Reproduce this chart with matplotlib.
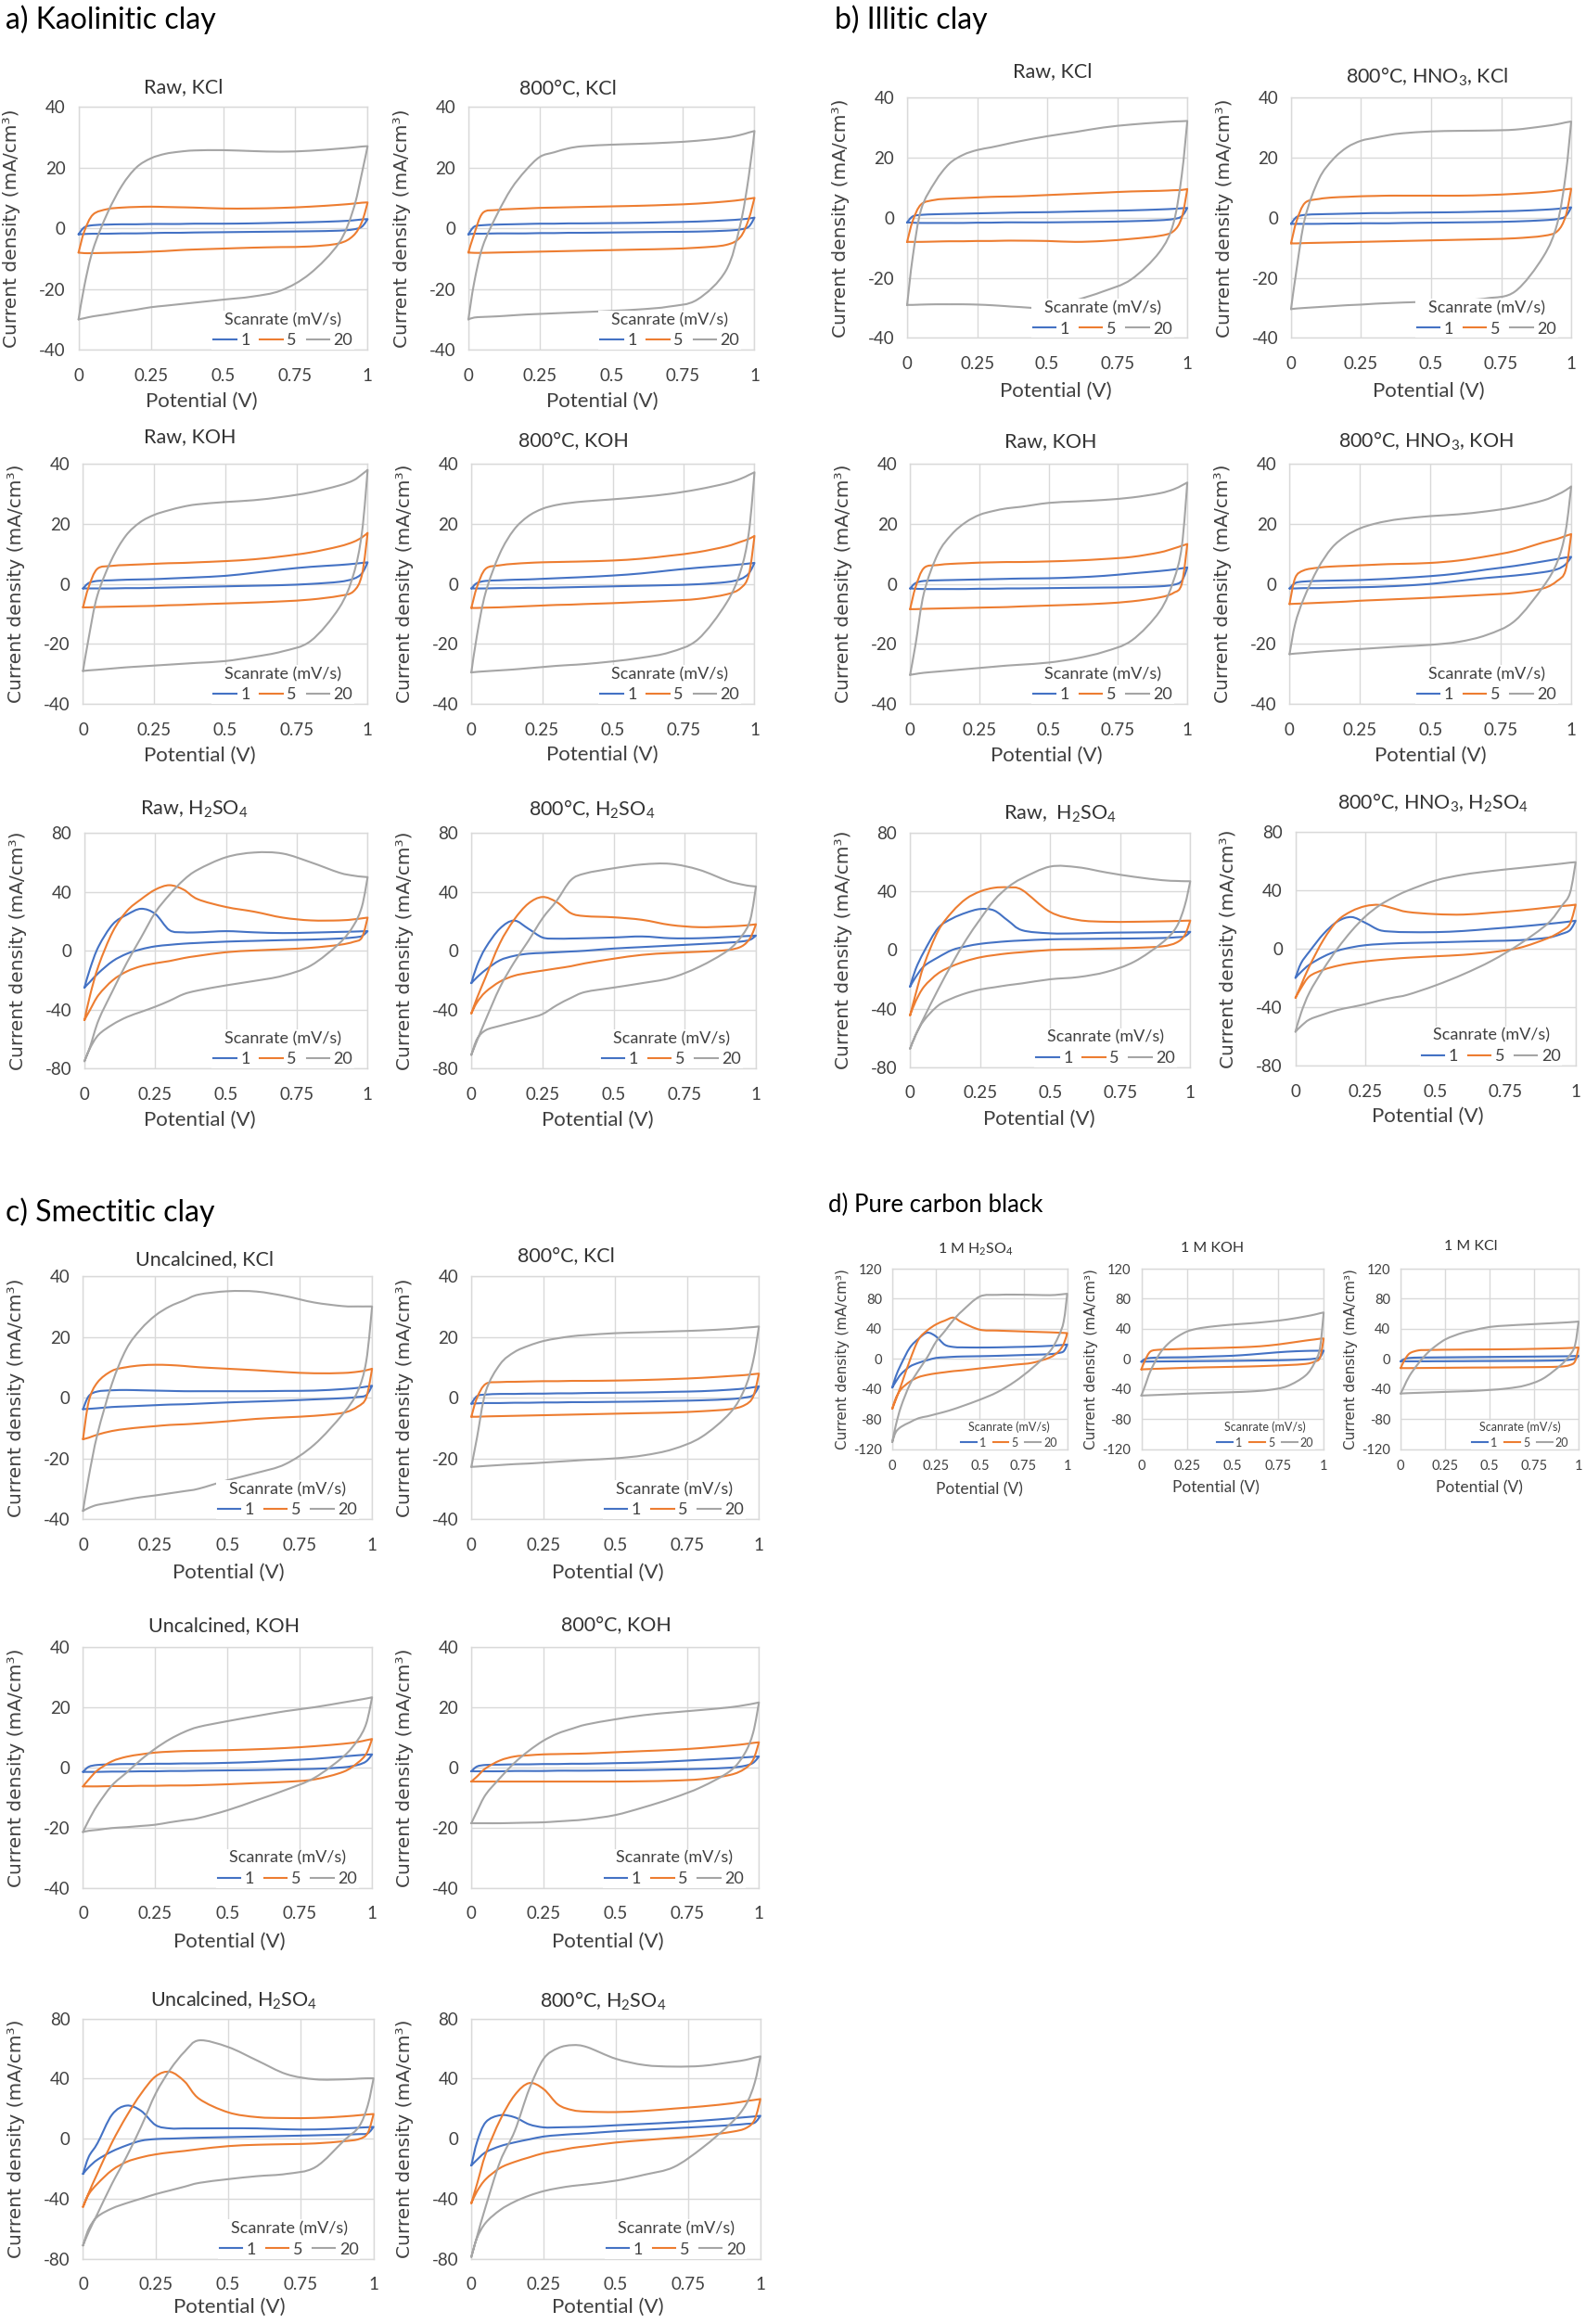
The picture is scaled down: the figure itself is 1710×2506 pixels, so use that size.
import matplotlib.pyplot as plt
from matplotlib.lines import Line2D
from matplotlib.patches import PathPatch
from matplotlib.path import Path

plt.rcParams["font.family"] = ["Lato", "DejaVu Sans"]
plt.rcParams["mathtext.fontset"] = "custom"
plt.rcParams["mathtext.rm"] = "Lato"
plt.rcParams["mathtext.default"] = "regular"
plt.rcParams["axes.unicode_minus"] = False

# potential grid (V) shared by every branch
V = [0, 0.02, 0.05, 0.1, 0.15, 0.2, 0.25, 0.3, 0.35, 0.4, 0.5, 0.6, 0.7, 0.8, 0.9, 0.95, 0.98, 1.0]
RATES = ["1", "5", "20"]
COLORS = ["#4472C4", "#ED7D31", "#A5A5A5"]

# current density (mA/cm3), rows = 1, 5, 20 mV/s
# fwd = anodic sweep 0 -> 1 V, rev = cathodic sweep (listed at the same V, low to high)

# a) kaolinitic
a1_fwd = [[-2, 0.3, 1, 1.2, 1.3, 1.3, 1.4, 1.4, 1.4, 1.5, 1.5, 1.6, 1.8, 2, 2.3, 2.6, 2.9, 3],
          [-8, -1, 4.5, 6.3, 6.8, 7, 7.1, 7, 6.9, 6.8, 6.5, 6.5, 6.7, 7.1, 7.7, 8.1, 8.4, 8.5],
          [-30, -19, -7, 5, 14, 20, 23, 24.5, 25.2, 25.6, 25.7, 25.4, 25.2, 25.5, 26.2, 26.6, 26.9, 27]]
a1_rev = [[-2, -1.9, -1.8, -1.8, -1.7, -1.7, -1.6, -1.5, -1.5, -1.4, -1.3, -1.2, -1.1, -1, -0.8, -0.4, 0.5, 3],
          [-8, -8.2, -8.2, -8.1, -8, -7.9, -7.7, -7.5, -7.2, -7, -6.7, -6.4, -6.2, -6, -5, -2.5, 2, 8.5],
          [-30, -29.6, -29, -28.3, -27.5, -26.8, -26, -25.5, -25, -24.5, -23.5, -22.5, -20.5, -15, -5, 6, 18, 27]]

a2_fwd = [[-2, 0.5, 1, 1.2, 1.3, 1.4, 1.5, 1.5, 1.6, 1.6, 1.7, 1.8, 2, 2.2, 2.6, 2.9, 3.2, 3.5],
          [-8, -2, 5, 6, 6.3, 6.5, 6.7, 6.8, 6.9, 7, 7.2, 7.4, 7.7, 8.1, 8.8, 9.3, 9.7, 10],
          [-30, -18, -6, 4.5, 13, 19, 23.5, 25, 26.3, 27, 27.5, 27.8, 28.2, 28.8, 29.8, 30.7, 31.5, 32]]
a2_rev = [[-2, -1.8, -1.8, -1.7, -1.7, -1.7, -1.6, -1.6, -1.5, -1.5, -1.4, -1.3, -1.2, -1.1, -0.8, -0.4, 0.5, 3.5],
          [-8, -8.1, -8.1, -8, -7.9, -7.8, -7.7, -7.6, -7.5, -7.4, -7.2, -7, -6.8, -6.4, -5.5, -3, 3, 10],
          [-30, -29.4, -29.2, -29, -28.7, -28.4, -28.2, -28, -27.8, -27.6, -27.2, -26.7, -25.8, -23.5, -14, 1, 17, 32]]

a3_fwd = [[-1.5, 0.3, 1, 1.2, 1.4, 1.5, 1.6, 1.8, 2, 2.2, 2.7, 3.7, 4.8, 5.7, 6.3, 6.7, 7, 7.2],
          [-7.8, -1, 5, 6, 6.3, 6.5, 6.7, 6.9, 7, 7.2, 7.6, 8.2, 9.2, 10.5, 12.5, 14, 15.5, 17],
          [-29, -18, -4, 8, 16, 20.5, 23, 24.5, 25.7, 26.5, 27.3, 27.9, 29, 30.5, 32.8, 34.5, 36.5, 38]]
a3_rev = [[-1.5, -1.5, -1.5, -1.5, -1.4, -1.4, -1.3, -1.2, -1.1, -1, -0.8, -0.6, -0.4, 0, 0.7, 1.7, 3.5, 7.2],
          [-7.8, -7.8, -7.7, -7.6, -7.5, -7.4, -7.3, -7.1, -7, -6.8, -6.5, -6.2, -5.8, -5.2, -4, -2.5, 3, 17],
          [-29, -28.8, -28.6, -28.2, -27.8, -27.5, -27.2, -26.9, -26.6, -26.3, -25.7, -24.3, -22.5, -19, -8, 3, 17, 38]]

a4_fwd = [[-1.5, 0.3, 1, 1.2, 1.4, 1.5, 1.7, 1.9, 2.1, 2.3, 2.8, 3.5, 4.5, 5.4, 6.1, 6.5, 6.8, 7],
          [-8, -1, 5, 6.2, 6.7, 7, 7.2, 7.3, 7.4, 7.5, 7.8, 8.4, 9.4, 10.6, 12.5, 14, 15, 16],
          [-29.5, -17, -3, 10, 18, 22.5, 25, 26.3, 27, 27.5, 28.2, 29, 30, 31.5, 33.5, 35, 36.3, 37.2]]
a4_rev = [[-1.5, -1.5, -1.5, -1.4, -1.4, -1.3, -1.3, -1.2, -1.1, -1, -0.8, -0.6, -0.4, -0.1, 0.6, 1.6, 3.5, 7],
          [-8, -8, -7.9, -7.8, -7.6, -7.4, -7.2, -7, -6.9, -6.7, -6.4, -6, -5.6, -5, -3.5, -1.5, 3, 16],
          [-29.5, -29.3, -29.1, -28.8, -28.5, -28.1, -27.7, -27.3, -27, -26.7, -25.8, -24.6, -22.8, -18.5, -6.5, 4, 17, 37.2]]

a5_fwd = [[-25, -12, 3, 18, 24.5, 28.5, 25, 14, 12.5, 12.5, 13.3, 12.5, 12, 12.3, 12.8, 13, 13.2, 13.3],
          [-47, -30, -10, 13, 27, 35, 41.5, 44.5, 41.5, 35, 29.7, 26.5, 22.5, 20.6, 20.6, 21.3, 22, 22.5],
          [-75, -65, -47, -27, -8, 9, 26, 38, 48, 55, 63.5, 66.7, 66, 60, 53, 51, 50.3, 50]]
a5_rev = [[-25, -21, -15, -7, -2, 1, 3, 4, 4.8, 5.3, 6.2, 6.7, 7.2, 7.6, 8.3, 9, 10, 13.3],
          [-47, -40, -30, -20, -14, -10.5, -8.5, -7, -5, -3.5, -1, 0.2, 1, 2, 4, 6, 9, 22.5],
          [-75, -66, -57, -50, -45, -41.5, -38, -34, -29.5, -27, -23.5, -20.5, -17, -10, 5, 17, 30, 50]]

a6_fwd = [[-22, -10, 2, 15, 20.5, 15, 9, 8.2, 8.3, 8.5, 9, 9.7, 8.5, 8.5, 9.3, 9.8, 10.1, 10.3],
          [-42.5, -32, -18, 5, 21, 32, 36.5, 33, 25.5, 23.5, 22.7, 21, 17.5, 16, 16.5, 17, 17.5, 18],
          [-70.7, -61, -47, -25, -8, 6.6, 22, 34, 48, 52.5, 56, 58.6, 59, 55, 47.5, 45, 44, 43.7]]
a6_rev = [[-22, -18, -13, -6.5, -3.5, -2, -1.5, -1, -0.5, 0, 1.5, 2.5, 3.5, 4.5, 5.5, 6.3, 7.5, 10.3],
          [-42.5, -35, -28, -21, -17, -15, -13.5, -12, -10.5, -8.5, -5.4, -2.8, -1.5, -0.7, 0.5, 3, 8.7, 18],
          [-70.7, -60, -54, -51, -48.5, -46, -43, -37, -32, -28, -25, -22, -18.5, -11, 0, 10, 21, 43.7]]

# b) illitic
b1_fwd = [[-1.5, 0.5, 1, 1.2, 1.3, 1.4, 1.5, 1.6, 1.7, 1.8, 1.9, 2.1, 2.3, 2.5, 2.8, 3, 3.2, 3.3],
          [-8, -1, 4.5, 6, 6.4, 6.6, 6.8, 7, 7.1, 7.2, 7.6, 8, 8.4, 8.8, 9, 9.2, 9.3, 9.6],
          [-29, -13, 2.8, 12, 18, 21, 22.6, 23.5, 24.5, 25.5, 27.2, 28.6, 30.1, 31.1, 31.8, 32.1, 32.2, 32.3]]
b1_rev = [[-1.5, -1.6, -1.7, -1.7, -1.7, -1.7, -1.6, -1.6, -1.5, -1.5, -1.5, -1.4, -1.3, -1.1, -0.8, -0.4, 0.5, 3.3],
          [-8, -8, -8, -7.9, -7.8, -7.8, -7.7, -7.7, -7.6, -7.6, -7.7, -8, -7.7, -7, -6, -4.5, 0, 9.6],
          [-29, -29, -28.9, -28.8, -28.8, -28.8, -28.9, -29.1, -29.4, -29.7, -30, -27.5, -24.5, -20.5, -11.5, -2, 14, 32.3]]

b2_fwd = [[-2, 0.3, 1, 1.2, 1.3, 1.4, 1.5, 1.6, 1.6, 1.7, 1.8, 1.9, 2.1, 2.3, 2.7, 3, 3.3, 3.5],
          [-8.5, -1, 5, 6.3, 6.8, 7, 7.2, 7.3, 7.4, 7.4, 7.4, 7.4, 7.6, 8, 8.6, 9.1, 9.5, 9.7],
          [-30.4, -17, 0, 13, 19.5, 23.5, 25.7, 26.7, 27.6, 28.2, 28.8, 29, 29.1, 29.4, 30.5, 31.2, 31.8, 32.1]]
b2_rev = [[-2, -2, -2, -2, -1.9, -1.9, -1.8, -1.8, -1.8, -1.7, -1.6, -1.5, -1.4, -1.2, -0.8, -0.4, 0.5, 3.5],
          [-8.5, -8.5, -8.4, -8.3, -8.2, -8.1, -8, -7.9, -7.8, -7.7, -7.5, -7.3, -7.1, -6.8, -6, -4.5, 0.5, 9.7],
          [-30.4, -30.2, -30, -29.7, -29.4, -29.1, -28.9, -28.6, -28.4, -28.2, -27.9, -27.5, -26.8, -24.5, -13, -2, 14, 32.1]]

b3_fwd = [[-1.5, 0.3, 1, 1.2, 1.3, 1.4, 1.5, 1.6, 1.7, 1.8, 1.9, 2.2, 2.7, 3.5, 4.3, 4.8, 5.2, 5.5],
          [-8.4, -1, 5.3, 6.3, 6.7, 6.9, 7.1, 7.2, 7.3, 7.3, 7.5, 7.8, 8.3, 9, 10.5, 11.8, 12.7, 13.3],
          [-30.3, -20, -3, 10, 16.5, 20.5, 23, 24.3, 25.2, 25.7, 27, 27.5, 28, 28.8, 30.2, 31.5, 32.8, 33.8]]
b3_rev = [[-1.5, -1.6, -1.7, -1.7, -1.7, -1.7, -1.6, -1.6, -1.5, -1.5, -1.4, -1.3, -1.2, -1.1, -0.8, -0.3, 1, 5.5],
          [-8.4, -8.4, -8.3, -8.2, -8.1, -8, -7.9, -7.8, -7.7, -7.5, -7.2, -6.9, -6.5, -5.8, -4.5, -3, 0, 13.3],
          [-30.3, -30, -29.6, -29.2, -28.8, -28.4, -28, -27.6, -27.2, -26.9, -26.2, -24.8, -22.6, -18.8, -9.2, 1, 12.3, 33.8]]

b4_fwd = [[-1.5, 0.3, 0.8, 1, 1.1, 1.2, 1.3, 1.5, 1.7, 2, 2.6, 3.5, 4.8, 6, 7.5, 8.3, 8.8, 9],
          [-6.7, 2, 4.5, 5.4, 5.8, 6, 6.2, 6.4, 6.6, 6.7, 7, 7.8, 9.2, 11, 13.8, 15, 16, 16.6],
          [-23.4, -13.3, -5, 5, 12, 16, 18.5, 20, 21, 21.7, 22.6, 23.2, 24.2, 25.6, 27.8, 29.7, 31.2, 32.5]]
b4_rev = [[-1.5, -1.5, -1.4, -1.4, -1.3, -1.2, -1.1, -1, -0.8, -0.6, 0, 1, 2, 2.8, 3.9, 4.9, 6.5, 9],
          [-6.7, -6.6, -6.5, -6.3, -6.1, -5.9, -5.6, -5.4, -5.2, -5, -4.6, -4.1, -3.6, -3, -1.5, 1, 4.5, 16.6],
          [-23.4, -23.2, -23, -22.6, -22.3, -22, -21.7, -21.4, -21.1, -20.8, -20.3, -19.3, -17, -12.3, -1, 7.2, 17.4, 32.5]]

b5_fwd = [[-25, -13, -1, 15, 21.5, 25.5, 28, 27, 20, 13.5, 11.4, 11.4, 11.8, 12, 12.2, 12.3, 12.4, 12.4],
          [-44.6, -30, -10, 13, 26, 35, 40, 42.5, 42.8, 41, 26, 20.5, 19.3, 19.3, 19.6, 19.8, 20, 20.1],
          [-67.4, -58, -46, -27, -9.3, 7, 21, 34, 43, 49, 57, 56.5, 53, 50, 47.7, 47.2, 47, 47]]
b5_rev = [[-25, -18.5, -11, -5, 0, 2.5, 4.2, 5.2, 6, 6.5, 7.3, 7.5, 7.7, 7.9, 8.2, 8.7, 9.3, 12.4],
          [-44.6, -35, -25, -16, -11, -7.5, -5, -3.5, -2.3, -1.5, 0, 0.5, 1, 1.5, 2.5, 5, 10, 20.1],
          [-67.4, -58, -48, -38, -33, -29.5, -27, -25.5, -24, -22.8, -20, -18.5, -15, -8, 5, 15.5, 30, 47]]

b6_fwd = [[-20, -10, -2, 10, 18.5, 21.5, 17.5, 12.6, 11.5, 11.2, 11.2, 12, 13.5, 15, 16.8, 17.8, 18.5, 19],
          [-33.7, -25, -12, 6, 19, 25.5, 29, 29.8, 27.4, 25, 23.5, 23.2, 24.5, 26, 28, 29, 29.5, 30],
          [-56.8, -44, -30, -14, 0, 12, 22, 29.5, 35, 39.5, 46.5, 50.5, 53, 55, 57, 58, 58.7, 59]]
b6_rev = [[-20, -16, -11, -5.5, -1.5, 0.8, 2.3, 3, 3.5, 3.8, 4.2, 4.7, 5.2, 5.7, 7.4, 10, 12.6, 19],
          [-33.7, -27, -19, -14.5, -11.8, -10, -8.8, -7.8, -7, -6.3, -5.3, -4.3, -2.5, 0.5, 7, 12, 17, 30],
          [-56.8, -53, -48.5, -45, -42, -40, -38, -35.5, -33.5, -31.6, -25.2, -17.5, -8.4, 3, 17, 29, 38, 59]]

# c) smectitic
c1_fwd = [[-3.8, 0.5, 2, 2.4, 2.5, 2.4, 2.3, 2.2, 2.1, 2.1, 2.1, 2.1, 2.2, 2.3, 2.8, 3.2, 3.6, 3.9],
          [-13.7, -1.2, 5, 8.8, 10, 10.6, 10.8, 10.7, 10.4, 10, 9.5, 9, 8.4, 8, 8.1, 8.5, 9, 9.5],
          [-37.3, -26, -12, 4.5, 16, 22.5, 27, 30, 32, 33.9, 35, 34.9, 33.4, 31.3, 30.1, 30, 30, 30]]
c1_rev = [[-3.8, -3.7, -3.5, -3.1, -2.9, -2.7, -2.5, -2.3, -2.2, -2, -1.6, -1.3, -1, -0.6, -0.2, 0.2, 0.8, 3.9],
          [-13.7, -13.2, -12.2, -11, -10.3, -9.8, -9.4, -9, -8.8, -8.5, -7.8, -7, -6.5, -6, -5, -3, 0, 9.5],
          [-37.3, -36.3, -35.3, -34.5, -33.6, -32.8, -32.2, -31.5, -30.8, -30, -27.2, -24.8, -21.9, -15.5, -5.3, 2, 12, 30]]

c2_fwd = [[-2, 0.5, 1, 1.2, 1.2, 1.3, 1.3, 1.4, 1.4, 1.5, 1.6, 1.7, 1.9, 2.1, 2.6, 3, 3.4, 3.7],
          [-6.3, 0, 4.5, 5.1, 5.2, 5.3, 5.4, 5.4, 5.5, 5.5, 5.6, 5.8, 6.1, 6.5, 7.1, 7.4, 7.7, 7.9],
          [-22.8, -13, 2, 11, 15, 17.1, 18.6, 19.5, 20.2, 20.6, 21.2, 21.5, 21.8, 22.1, 22.6, 23, 23.2, 23.4]]
c2_rev = [[-2, -1.9, -1.8, -1.8, -1.7, -1.7, -1.6, -1.6, -1.5, -1.5, -1.4, -1.3, -1.1, -0.9, -0.5, 0, 0.8, 3.7],
          [-6.3, -6.3, -6.2, -6.1, -6, -5.9, -5.8, -5.7, -5.6, -5.5, -5.3, -5.1, -4.9, -4.5, -3.8, -2.5, 0.3, 7.9],
          [-22.8, -22.7, -22.5, -22.2, -21.9, -21.7, -21.4, -21.1, -20.8, -20.5, -20, -19, -17, -13, -5, 2.8, 12, 23.4]]

c3_fwd = [[-1.5, 0.2, 0.8, 1, 1.1, 1.1, 1.2, 1.2, 1.3, 1.3, 1.5, 1.8, 2.3, 2.8, 3.6, 4, 4.2, 4.3],
          [-6.3, -4, -1, 2, 3.5, 4.3, 4.9, 5.2, 5.4, 5.5, 5.7, 6, 6.4, 7, 7.8, 8.4, 9, 9.4],
          [-21.4, -17.5, -12.5, -6, -1.8, 2.5, 6.2, 9.3, 11.7, 13.4, 15.3, 17, 18.6, 19.9, 21.5, 22.3, 22.8, 23.2]]
c3_rev = [[-1.5, -1.5, -1.5, -1.4, -1.4, -1.3, -1.3, -1.2, -1.2, -1.1, -1, -0.9, -0.7, -0.5, 0, 0.8, 2, 4.3],
          [-6.3, -6.3, -6.3, -6.2, -6.2, -6.1, -6.1, -6, -6, -5.9, -5.6, -5.2, -4.8, -4, -1.5, 1.5, 4.5, 9.4],
          [-21.4, -21, -20.7, -20.1, -19.8, -19.4, -19, -18.2, -17.5, -16.8, -14.2, -10.9, -7.5, -3.5, 3.5, 9, 14.5, 23.2]]

c4_fwd = [[-1.3, 0.3, 0.8, 0.9, 1, 1, 1.1, 1.1, 1.2, 1.2, 1.4, 1.6, 2, 2.5, 3, 3.3, 3.5, 3.6],
          [-4.7, -3, -0.3, 2.3, 3.6, 4, 4.3, 4.4, 4.5, 4.6, 5, 5.4, 5.8, 6.4, 7.2, 7.7, 8.1, 8.3],
          [-18.5, -14.5, -9, -3.5, 1.5, 5.5, 8.8, 11.2, 12.8, 14.2, 15.9, 17.3, 18.2, 19, 19.9, 20.6, 21.1, 21.5]]
c4_rev = [[-1.3, -1.3, -1.3, -1.3, -1.2, -1.2, -1.2, -1.1, -1.1, -1.1, -1, -0.9, -0.7, -0.5, -0.1, 0.5, 1.5, 3.6],
          [-4.7, -4.7, -4.7, -4.7, -4.7, -4.7, -4.7, -4.7, -4.7, -4.7, -4.7, -4.6, -4.4, -3.9, -2.5, -0.5, 2.5, 8.3],
          [-18.5, -18.5, -18.5, -18.5, -18.4, -18.3, -18.2, -17.9, -17.6, -17.2, -15.8, -13.2, -10.2, -6.5, -1.2, 4.5, 11.5, 21.5]]

c5_fwd = [[-23.5, -12, -3, 16, 22, 18.5, 9, 6.8, 6.8, 6.8, 6.9, 6.8, 6.2, 6.1, 6.8, 7.3, 7.6, 7.8],
          [-45.5, -36, -23, -2.5, 15, 30, 41.5, 44.5, 38, 26.5, 17.5, 14.3, 13.7, 13.8, 14.8, 15.6, 16.1, 16.4],
          [-71.2, -62, -50, -30, -12, 8, 30, 46, 58, 65.5, 61, 52, 43, 39.5, 39.5, 40, 40.2, 40.2]]
c5_rev = [[-23.5, -19, -14, -8.5, -4.5, -1.4, -0.3, 0, 0.3, 0.6, 1, 1.4, 1.8, 2.2, 2.7, 3, 3.5, 7.8],
          [-45.5, -37, -30, -21, -15.5, -12.5, -10.5, -9.2, -8.2, -7, -5, -4.1, -3.7, -3.2, -1.7, -0.3, 3.7, 16.4],
          [-71.2, -60, -52, -46.5, -43, -40, -37, -34.5, -32, -29.5, -27, -25, -23.5, -19, -1, 8, 22, 40.2]]

c6_fwd = [[-17.9, -2, 11, 15.6, 14.2, 9.5, 7.5, 7.5, 7.7, 7.9, 8.9, 9.8, 10.8, 12, 13.5, 14.3, 14.8, 15.2],
          [-43, -30, -10, 12.6, 29, 37, 33, 22.7, 19, 18, 17.7, 18.5, 20, 21.5, 23.5, 25, 25.8, 26.4],
          [-78.8, -65, -45, -15, 5, 32.9, 53.2, 60.3, 62.3, 61, 53.2, 49, 48, 48.5, 51, 52.5, 54, 54.8]]
c6_rev = [[-17.9, -14, -9, -5, -2.5, -0.5, 1.4, 2.3, 3, 3.5, 4.9, 5.9, 6.9, 7.9, 9, 9.8, 10.6, 15.2],
          [-43, -35, -27, -19.5, -15.5, -12.5, -9.7, -8, -6.2, -5, -2.6, -1, 0.5, 2, 4.5, 7, 12.6, 26.4],
          [-78.8, -66, -56, -47.5, -42, -38, -35, -33, -31.5, -30.5, -28, -24, -19, -6, 10.6, 22.7, 37, 54.8]]

# d) pure carbon black
d1_fwd = [[-37.8, -23, -7, 15, 27, 35, 30, 19, 16, 15.5, 15.3, 15.5, 16, 16.5, 17.5, 18.3, 18.8, 19.3],
          [-66, -54, -35, -2, 26, 38, 46, 51, 55, 48.5, 39, 37.8, 37, 36.2, 35.5, 35, 34.7, 34.5],
          [-110, -88, -63, -34, -15, 2.4, 23, 37, 52, 64, 83, 85.2, 85.5, 85.2, 84.8, 85.5, 86.2, 86.7]]
d1_rev = [[-37.8, -30, -20, -10, -5, -1.5, 1.5, 2.3, 3, 3.4, 3.8, 4.3, 5, 5.7, 6.5, 8, 10.4, 19.3],
          [-66, -52, -40, -30, -24, -21, -19, -17.5, -16, -15, -12.4, -10, -7.5, -5, 2, 10, 20, 34.5],
          [-110, -97, -90, -84, -78.5, -76, -73, -70, -66.5, -62.5, -54, -44, -30, -12, 10, 30, 50, 86.7]]

d2_fwd = [[-3.5, 0, 1.5, 2, 2.2, 2.3, 2.4, 2.8, 3.2, 3.6, 4.4, 6, 8, 9.8, 10.8, 11, 11.1, 11.2],
          [-13.7, -2, 10, 12.4, 12.8, 13.2, 13.7, 14, 14.3, 14.6, 15.3, 16.2, 18, 21, 24.5, 26, 27, 27.3],
          [-48.5, -36, -16, 7, 21, 30, 36.5, 40, 42, 43.5, 45.8, 47.5, 49.7, 52.5, 56.6, 59, 60.8, 61.8]]
d2_rev = [[-3.5, -3.4, -3.3, -3.2, -3.1, -3, -2.9, -2.8, -2.7, -2.6, -2.4, -2.1, -1.8, -1.4, -0.5, 0.5, 2.5, 11.2],
          [-13.7, -13.5, -13.2, -12.8, -12.4, -12, -11.6, -11.3, -11, -10.8, -10.3, -9.8, -9, -8, -6.5, -3.5, 2, 27.3],
          [-48.5, -48.3, -48, -47.5, -47, -46.5, -46, -45.6, -45.2, -44.8, -44, -43, -41, -36, -22, -5, 15, 61.8]]

d3_fwd = [[-3, 0, 1.5, 2, 2.1, 2.2, 2.3, 2.4, 2.5, 2.6, 2.8, 3, 3.2, 3.4, 3.6, 3.8, 4, 4.2],
          [-12, -2, 7.5, 11.5, 12, 12.2, 12.4, 12.5, 12.6, 12.7, 12.8, 13, 13.3, 13.8, 14.3, 14.7, 15, 15.3],
          [-45.8, -36, -22, -5.6, 8, 18, 26, 31, 35, 37.8, 42.6, 44.5, 45.8, 47, 48.2, 48.9, 49.4, 49.8]]
d3_rev = [[-3, -3, -3, -3, -3, -2.9, -2.9, -2.8, -2.8, -2.7, -2.6, -2.5, -2.4, -2.2, -1.8, -1, 0.5, 4.2],
          [-12, -12, -12, -11.9, -11.8, -11.7, -11.6, -11.5, -11.4, -11.3, -11.2, -11, -10.8, -10.6, -10, -8, -3, 15.3],
          [-45.8, -45.5, -45.2, -44.8, -44.4, -44, -43.6, -43.2, -42.8, -42.4, -41, -39, -35, -26, -8, 5, 18.5, 49.8]]

H2SO4 = "H$_2$SO$_4$"
HNO3 = "HNO$_3$"

# layout measured on the 1070 px wide preview of the reference
S = 1710 / 1070
W, H = 1710, 2506

# fwd, rev, title, ymax, ystep, axes box (x0, x1, ytop, ybot), title xy, xlabel xy, small
PANELS = [
    (a1_fwd, a1_rev, "Raw, KCl", 40, 20, (53, 248, 72, 236), (124, 59), (136, 271), False),
    (a2_fwd, a2_rev, "800°C, KCl", 40, 20, (316, 509, 72, 236), (383, 60), (406, 271), False),
    (a3_fwd, a3_rev, "Raw, KOH", 40, 20, (56, 248, 313, 475), (128, 295), (135, 510), False),
    (a4_fwd, a4_rev, "800°C, KOH", 40, 20, (318, 509, 313, 475), (387, 298), (406, 509), False),
    (a5_fwd, a5_rev, "Raw, " + H2SO4, 80, 40, (57, 248, 562, 721), (131, 546), (135, 756), False),
    (a6_fwd, a6_rev, "800°C, " + H2SO4, 80, 40, (318, 510, 562, 721), (399, 546), (403, 756), False),
    (b1_fwd, b1_rev, "Raw, KCl", 40, 20, (612, 801, 66, 228), (710, 48), (712, 264), False),
    (b2_fwd, b2_rev, "800°C, " + HNO3 + ", KCl", 40, 20, (871, 1060, 66, 228), (963, 52), (964, 264), False),
    (b3_fwd, b3_rev, "Raw, KOH", 40, 20, (614, 801, 313, 475), (709, 298), (706, 510), False),
    (b4_fwd, b4_rev, "800°C, " + HNO3 + ", KOH", 40, 20, (870, 1060, 313, 475), (962, 298), (965, 510), False),
    (b5_fwd, b5_rev, "Raw,  " + H2SO4, 80, 40, (614, 803, 562, 720), (715, 549), (701, 755), False),
    (b6_fwd, b6_rev, "800°C, " + HNO3 + ", " + H2SO4, 80, 40, (874, 1063, 561, 719), (967, 542), (963, 753), False),
    (c1_fwd, c1_rev, "Uncalcined, KCl", 40, 20, (56, 251, 861, 1025), (138, 850), (154, 1061), False),
    (c2_fwd, c2_rev, "800°C, KCl", 40, 20, (318, 512, 861, 1025), (382, 848), (410, 1061), False),
    (c3_fwd, c3_rev, "Uncalcined, KOH", 40, 20, (56, 251, 1111, 1274), (151, 1097), (155, 1310), False),
    (c4_fwd, c4_rev, "800°C, KOH", 40, 20, (318, 512, 1111, 1274), (416, 1097), (410, 1310), False),
    (c5_fwd, c5_rev, "Uncalcined, " + H2SO4, 80, 40, (56, 252, 1362, 1524), (158, 1350), (155, 1557), False),
    (c6_fwd, c6_rev, "800°C, " + H2SO4, 80, 40, (318, 513, 1362, 1524), (407, 1350), (410, 1557), False),
    (d1_fwd, d1_rev, "1 M " + H2SO4, 120, 40, (602, 720, 856, 978), (658, 843), (661, 1005), True),
    (d2_fwd, d2_rev, "1 M KOH", 120, 40, (770, 893, 856, 978), (818, 842), (820, 1004), True),
    (d3_fwd, d3_rev, "1 M KCl", 120, 40, (945, 1065, 856, 978), (992, 841), (998, 1004), True),
]

SECTIONS = [("a) Kaolinitic clay", 4, 13, 23), ("b) Illitic clay", 563, 13, 23),
            ("c) Smectitic clay", 4, 818, 23), ("d) Pure carbon black", 559, 813, 18.5)]

TXT = "#404040"
GRID = "#D9D9D9"

fig = plt.figure(figsize=(W / 100, H / 100), dpi=100)


def fx(x):
    return x * S / W


def fy(y):
    return 1 - y * S / H


def smooth_loop(xs, ys, corner):
    # Excel-style smoothed line: cubic Bezier pieces through every read point,
    # with a sharp turn where the sweep reverses at 1 V
    pts = list(zip(xs, ys))
    n = len(pts)

    def tangent(i):
        if i == corner:
            return (0.0, 0.0)
        a, b = pts[max(i - 1, 0)], pts[min(i + 1, n - 1)]
        return ((b[0] - a[0]) / 6, (b[1] - a[1]) / 6)

    verts, codes = [pts[0]], [Path.MOVETO]
    for i in range(n - 1):
        t1, t2 = tangent(i), tangent(i + 1)
        p1, p2 = pts[i], pts[i + 1]
        verts += [(p1[0] + t1[0], p1[1] + t1[1]), (p2[0] - t2[0], p2[1] - t2[1]), p2]
        codes += [Path.CURVE4] * 3
    return Path(verts, codes)


for fwd, rev, title, ymax, ystep, (x0, x1, y0, y1), tpos, lpos, small in PANELS:
    ax = fig.add_axes([fx(x0), fy(y1), fx(x1) - fx(x0), fy(y0) - fy(y1)])
    handles = []
    for up, dn, c, lab in zip(fwd, rev, COLORS, RATES):
        xs = V + V[::-1][1:]
        ys = up + dn[::-1][1:]
        ax.add_patch(PathPatch(smooth_loop(xs, ys, len(V) - 1), fill=False, edgecolor=c,
                               lw=1.5, clip_on=False, zorder=3,
                               capstyle="round", joinstyle="round"))
        handles.append(Line2D([], [], color=c, lw=1.5, label=lab))
    ax.set_xlim(0, 1)
    ax.set_ylim(-ymax, ymax)
    ax.set_xticks([0, 0.25, 0.5, 0.75, 1], ["0", "0.25", "0.5", "0.75", "1"])
    ax.set_yticks(range(-ymax, ymax + 1, ystep))
    ax.tick_params(length=0, labelsize=10.5 if small else 13.5, labelcolor=TXT)
    ax.tick_params(axis="x", pad=8 if small else 14)
    ax.tick_params(axis="y", pad=8 if small else 10)
    ax.grid(color=GRID, lw=1.0)
    ax.set_axisbelow(True)
    for sp in ax.spines.values():
        sp.set_color(GRID)
        sp.set_linewidth(1.0)

    off = 29 if small else 39
    ax.set_ylabel("Current density (mA/cm³)", family="DejaVu Sans",
                  fontsize=11 if small else 14.5, color=TXT)
    ax.yaxis.set_label_coords(-off / (x1 - x0), 0.5)

    lfs = 9 if small else 13
    inset = (6 if small else 9) / (x1 - x0)
    leg = ax.legend(handles=handles, title="Scanrate (mV/s)", loc="lower right",
                    bbox_to_anchor=(1 - inset, 0), ncol=3,
                    fontsize=lfs, title_fontsize=lfs,
                    frameon=True, fancybox=False, framealpha=1, edgecolor="none",
                    handlelength=1.35, handletextpad=0.25, columnspacing=0.6,
                    borderpad=0.1, borderaxespad=0.0, labelspacing=0.35)
    leg.get_title().set_color(TXT)
    for t in leg.get_texts():
        t.set_color(TXT)
    leg.set_zorder(5)

    fig.text(fx(tpos[0]), fy(tpos[1]), title, ha="center", va="center",
             fontsize=11.5 if small else 15.5, color="#333333")
    fig.text(fx(lpos[0]), fy(lpos[1]), "Potential (V)", ha="center", va="center",
             fontsize=12.5 if small else 16, color=TXT)

for label, x, y, size in SECTIONS:
    fig.text(fx(x), fy(y), label, ha="left", va="center", fontsize=size, color="black")

fig.savefig("out.png", dpi=100)
